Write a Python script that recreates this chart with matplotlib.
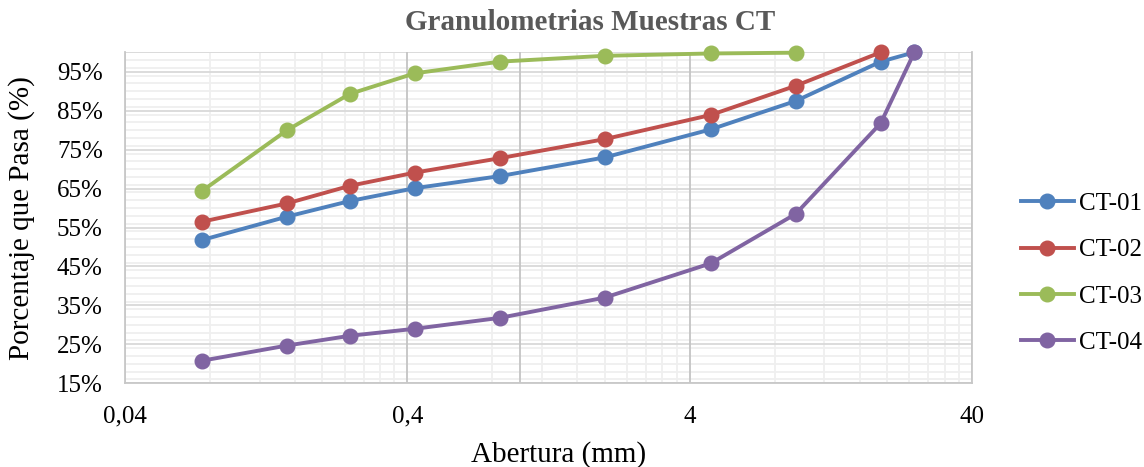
import numpy as np
import matplotlib
matplotlib.use("Agg")
import matplotlib.pyplot as plt
from matplotlib.ticker import FixedLocator, FuncFormatter, MultipleLocator

plt.rcParams['font.family'] = ['Liberation Serif', 'DejaVu Serif']

# abertura de tamices (mm)
abertura = [0.075, 0.15, 0.25, 0.425, 0.85, 2.0, 4.75, 9.5, 19, 25]

# porcentaje que pasa (%)
ct01 = [51.8, 57.8, 61.8, 65.1, 68.2, 73.0, 80.2, 87.5, 97.6, 100]
ct02 = [56.5, 61.2, 65.7, 69.1, 72.8, 77.7, 83.9, 91.4, 100]
ct03 = [64.4, 80.0, 89.3, 94.6, 97.6, 99.1, 99.7, 99.9]
ct04 = [20.8, 24.7, 27.2, 29.0, 31.8, 37.0, 45.8, 58.5, 81.8, 100]

series_names = ["CT-01", "CT-02", "CT-03", "CT-04"]
colors = ["#4F81BD", "#C0504D", "#9BBB59", "#8064A2"]

x_ticks = [0.04, 0.4, 4, 40]
x_tick_labels = ["0,04", "0,4", "4", "40"]
y_ticks = [15, 25, 35, 45, 55, 65, 75, 85, 95]


fig = plt.figure(figsize=(11.44, 4.67), dpi=100)
ax = fig.add_axes([125/1144, 1 - 383.3/467, (972 - 125)/1144, (383.3 - 52.3)/467])

ax.set_xscale('log')
ax.set_xlim(0.04, 40)
ax.set_ylim(15, 100)

# excel style grid: minor lines at each multiple of the decade start
minor_x = [m * d for d in x_ticks[:-1] for m in range(2, 10)]
ax.xaxis.set_major_locator(FixedLocator(x_ticks))
ax.xaxis.set_minor_locator(FixedLocator(minor_x))
ax.xaxis.set_major_formatter(FuncFormatter(lambda v, p: x_tick_labels[x_ticks.index(v)] if v in x_ticks else ""))
ax.xaxis.set_minor_formatter(FuncFormatter(lambda v, p: ""))
ax.yaxis.set_major_locator(FixedLocator(y_ticks))
ax.yaxis.set_minor_locator(MultipleLocator(2))
ax.yaxis.set_major_formatter(FuncFormatter(lambda v, p: "%d%%" % v))

ax.set_axisbelow(True)
ax.grid(which='minor', color='#EFEFEF', linewidth=1.3)
# major lines drawn on top of the minor ones so they stay solid
for y in y_ticks + [100]:
	ax.axhline(y, color='#D9D9D9', linewidth=1.3, zorder=0.7)
for x in x_ticks + [1.0]:
	ax.axvline(x, color='#C4C4C4', linewidth=1.3, zorder=0.8)

ax.spines['top'].set_visible(False)
for side in ['left', 'bottom', 'right']:
	ax.spines[side].set_color('#C8C8C8')
	ax.spines[side].set_linewidth(1.3)
	ax.spines[side].set_zorder(0.9)

ax.tick_params(which='both', length=0, labelsize=18)
ax.tick_params(axis='x', pad=16)
ax.tick_params(axis='y', pad=16)

all_series = [ct01, ct02, ct03, ct04]
for values, name, c in zip(all_series, series_names, colors):
	ax.plot(abertura[:len(values)], values, color=c, linewidth=2.8, marker='o',
		markersize=10.5, label=name, zorder=3, clip_on=False)

ax.set_xlabel("Abertura (mm)", fontsize=21)
ax.xaxis.set_label_coords(0.512, -0.215)
ax.xaxis.label.set_va('center')
ax.set_ylabel("Porcentaje que Pasa (%)", fontsize=21, labelpad=16)

fig.text(590/1144, 1 - 23/467, "Granulometrias Muestras CT", fontsize=21,
	fontweight='bold', color='#595959', ha='center', va='center')

fig.legend(loc='center left', bbox_to_anchor=(1021/1144, 1 - 273.3/467),
	frameon=False, fontsize=18, handlelength=2.1, handletextpad=0.2,
	labelspacing=0.95, borderpad=0, borderaxespad=0)

fig.savefig("out.png", dpi=100)
